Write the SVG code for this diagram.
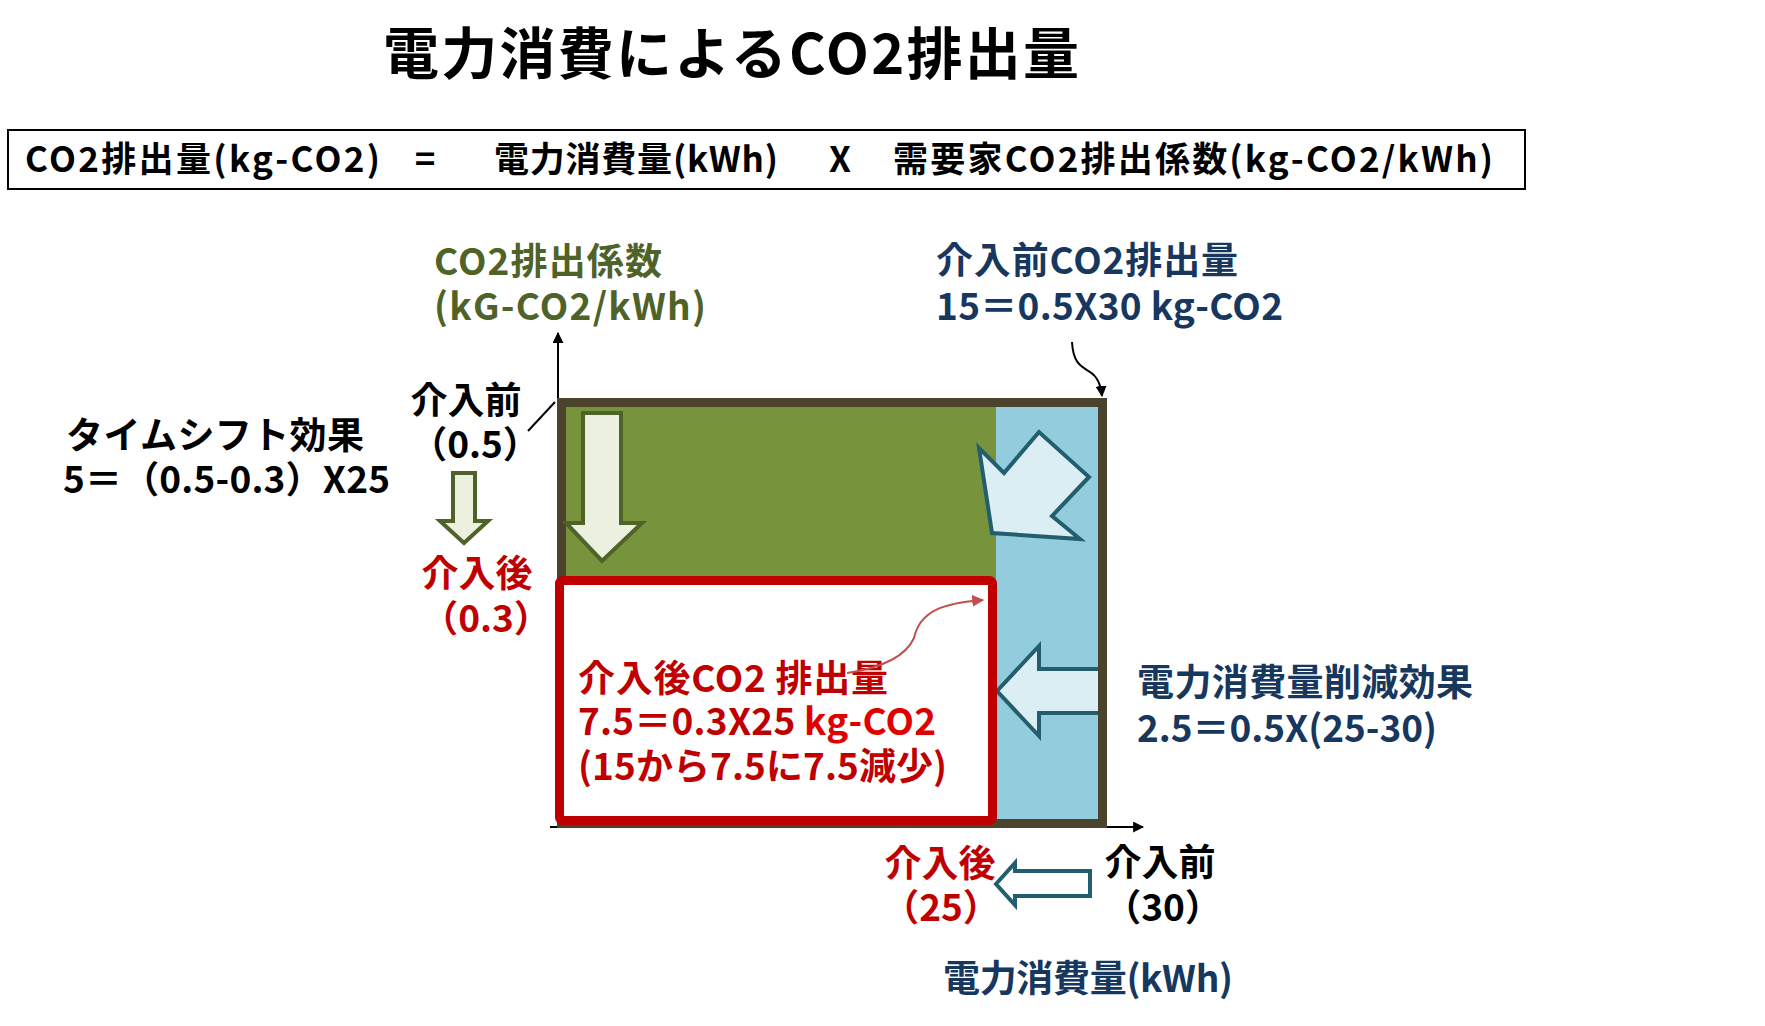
<svg xmlns="http://www.w3.org/2000/svg" width="1765" height="1026" viewBox="0 0 1765 1026">
<style>
.t{font-family:"Noto Sans CJK JP","Noto Sans",sans-serif;font-weight:700}
.a{font-size:37px}
.f{font-size:35px;fill:#000}
.navy{fill:#17375E}.red{fill:#C00000}.grn{fill:#4F6228}.blk{fill:#000}
.mid{text-anchor:middle}
.axis{stroke:#000;stroke-width:2;fill:none}
.olv{fill:#EBF1DE;stroke:#4F6228;stroke-width:4;stroke-linejoin:miter}
.teal{fill:#DBEEF4;stroke:#235E6E;stroke-width:4;stroke-linejoin:miter}
</style>
<defs>
<marker id="ah" viewBox="0 0 10 10" refX="9" refY="5" markerWidth="11" markerHeight="11" markerUnits="userSpaceOnUse" orient="auto"><path d="M0,0 L10,5 L0,10 z" fill="#000"/></marker>
<marker id="ahr" viewBox="0 0 10 10" refX="9" refY="5" markerWidth="12" markerHeight="12" markerUnits="userSpaceOnUse" orient="auto"><path d="M0,0 L10,5 L0,10 z" fill="#C0504D"/></marker>
</defs>
<rect width="1765" height="1026" fill="#fff"/>

<g id="title"><text class="t" x="383" y="74" font-size="56" textLength="696" fill="#000">電力消費によるCO2排出量</text></g>

<g id="formula">
<rect x="8" y="130" width="1517" height="59" fill="#fff" stroke="#000" stroke-width="2"/>
<text class="t f" x="25" y="172" textLength="355">CO2排出量(kg-CO2)</text>
<text class="t f mid" x="425" y="172">=</text>
<text class="t f" x="494" y="172" textLength="284">電力消費量(kWh)</text>
<text class="t f mid" x="840" y="172">X</text>
<text class="t f" x="893" y="172" textLength="600">需要家CO2排出係数(kg-CO2/kWh)</text>
</g>

<g id="connectors">
<line class="axis" x1="558" y1="828" x2="558" y2="333" marker-end="url(#ah)"/>
<line class="axis" x1="550" y1="827" x2="1143" y2="827" marker-end="url(#ah)"/>
<line class="axis" x1="528" y1="431" x2="555" y2="402"/>
<path class="axis" d="M1072 342 C1073 362,1080 366,1090 372 C1098 377,1101 385,1102 396" marker-end="url(#ah)"/>
</g>

<g id="chart">
<rect x="561" y="402" width="542" height="422" fill="#77933C"/>
<rect x="996" y="406" width="103" height="414" fill="#93CDDD"/>
<polygon id="teal-diag-arrow" class="teal" points="992,533 979,448 1004,473 1039,432 1089,477 1052,516 1080,539"/>
<polygon id="teal-left-arrow" class="teal" points="997,691 1039,646 1039,669 1100,669 1100,713 1039,713 1039,736"/>
<rect x="561.5" y="402.5" width="541" height="421" fill="none" stroke="#4B432B" stroke-width="9"/>
<rect id="after-box" x="559.5" y="580.5" width="433" height="240" rx="3" fill="#fff" stroke="#C00000" stroke-width="9"/>
<polygon id="olive-big-arrow" class="olv" points="583,413 621,413 621,523 642,523 602,561 566,523 583,523"/>
</g>

<g id="red-box-label">
<text class="t a red" x="578" y="692" textLength="310">介入後CO2 排出量</text>
<text class="t a red" x="578" y="735" textLength="358">7.5＝0.3X25 <tspan fill="#E00000">kg-CO2</tspan></text>
<text class="t a red" x="578" y="780" textLength="369">(15から7.5に7.5減少)</text>
<path d="M847 673 C880 668,905 658,914 638 C920 610,945 603,983 600" fill="none" stroke="#C0504D" stroke-width="2" marker-end="url(#ahr)"/>
</g>

<g id="y-axis-label">
<text class="t a grn" x="434" y="275" textLength="228">CO2排出係数</text>
<text class="t a grn" x="434" y="320" textLength="272">(kG-CO2/kWh)</text>
</g>

<g id="before-emission">
<text class="t a navy" x="936" y="274" textLength="302">介入前CO2排出量</text>
<text class="t a navy" x="936" y="320" textLength="347">15＝0.5X30 kg-CO2</text>
</g>

<g id="timeshift">
<text class="t a blk" x="66" y="449" textLength="298">タイムシフト効果</text>
<text class="t a blk" x="63" y="493" textLength="327">5＝（0.5-0.3）X25</text>
</g>

<g id="y-before">
<text class="t a blk mid" x="466" y="414">介入前</text>
<text class="t a blk mid" x="475" y="458">（0.5）</text>
</g>
<g id="y-small-arrow"><polygon class="olv" points="453,473 475,473 475,521 488,521 464,543 440,521 453,521"/></g>
<g id="y-after">
<text class="t a red mid" x="477" y="587">介入後</text>
<text class="t a red mid" x="486" y="632">（0.3）</text>
</g>

<g id="power-reduction">
<text class="t a navy" x="1137" y="696" textLength="336">電力消費量削減効果</text>
<text class="t a navy" x="1137" y="742" textLength="300">2.5＝0.5X(25-30)</text>
</g>

<g id="x-after">
<text class="t a red mid" x="940" y="877">介入後</text>
<text class="t a red mid" x="941" y="921">（25）</text>
</g>
<g id="x-small-arrow"><polygon points="996,884 1015,863 1015,871 1090,871 1090,896 1015,896 1015,905" fill="#fff" stroke="#235E6E" stroke-width="4"/></g>
<g id="x-before">
<text class="t a blk mid" x="1160" y="876">介入前</text>
<text class="t a blk mid" x="1163" y="921">（30）</text>
</g>
<g id="x-axis-label"><text class="t a navy" x="943" y="992" textLength="290">電力消費量(kWh)</text></g>
</svg>
